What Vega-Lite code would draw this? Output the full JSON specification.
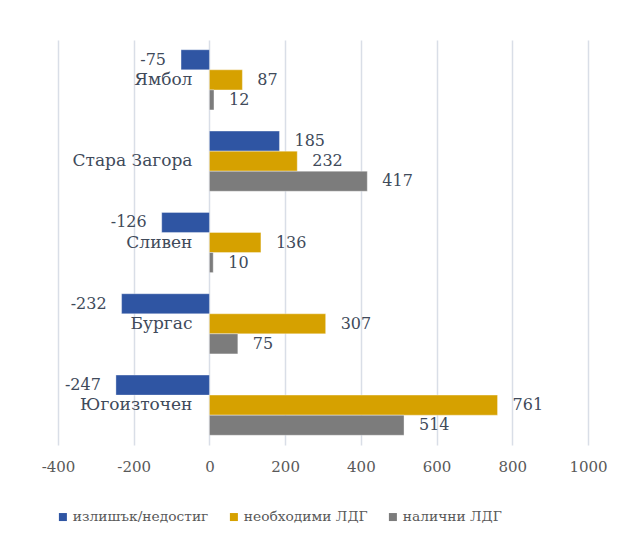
{
  "$schema": "https://vega.github.io/schema/vega-lite/v6.json",
  "width": 530,
  "height": 405,
  "autosize": "none",
  "padding": {"left": 58, "top": 40, "right": 38, "bottom": 106},
  "background": "white",
  "config": {
    "view": {"stroke": null},
    "font": "DejaVu Serif"
  },
  "data": {
    "values": [
      {"region": "Ямбол", "series": "излишък/недостиг", "value": -75},
      {"region": "Ямбол", "series": "необходими ЛДГ", "value": 87},
      {"region": "Ямбол", "series": "налични  ЛДГ", "value": 12},
      {"region": "Стара Загора", "series": "излишък/недостиг", "value": 185},
      {"region": "Стара Загора", "series": "необходими ЛДГ", "value": 232},
      {"region": "Стара Загора", "series": "налични  ЛДГ", "value": 417},
      {"region": "Сливен", "series": "излишък/недостиг", "value": -126},
      {"region": "Сливен", "series": "необходими ЛДГ", "value": 136},
      {"region": "Сливен", "series": "налични  ЛДГ", "value": 10},
      {"region": "Бургас", "series": "излишък/недостиг", "value": -232},
      {"region": "Бургас", "series": "необходими ЛДГ", "value": 307},
      {"region": "Бургас", "series": "налични  ЛДГ", "value": 75},
      {"region": "Югоизточен", "series": "излишък/недостиг", "value": -247},
      {"region": "Югоизточен", "series": "необходими ЛДГ", "value": 761},
      {"region": "Югоизточен", "series": "налични  ЛДГ", "value": 514}
    ]
  },
  "encoding": {
    "y": {
      "field": "region",
      "type": "nominal",
      "sort": ["Ямбол", "Стара Загора", "Сливен", "Бургас", "Югоизточен"],
      "scale": {"paddingInner": 0.26, "paddingOuter": 0.12},
      "axis": null
    }
  },
  "layer": [
    {
      "mark": {"type": "bar", "stroke": "white", "strokeOpacity": 0.35, "strokeWidth": 1},
      "encoding": {
        "x": {
          "field": "value",
          "type": "quantitative",
          "scale": {"domain": [-400, 1000], "nice": false},
          "axis": {
            "values": [-400, -200, 0, 200, 400, 600, 800, 1000],
            "labelExpr": "toString(datum.value)",
            "labelFlush": false,
            "labelOverlap": false,
            "title": null,
            "domain": false,
            "ticks": false,
            "grid": true,
            "gridColor": "#D9DEE7",
            "gridWidth": 1.5,
            "labelFont": "DejaVu Serif",
            "labelFontSize": 15,
            "labelColor": "#595959",
            "labelPadding": 14
          }
        },
        "yOffset": {
          "field": "series",
          "type": "nominal",
          "sort": ["излишък/недостиг", "необходими ЛДГ", "налични  ЛДГ"],
          "scale": {"paddingInner": 0, "paddingOuter": 0}
        },
        "color": {
          "field": "series",
          "type": "nominal",
          "sort": ["излишък/недостиг", "необходими ЛДГ", "налични  ЛДГ"],
          "scale": {
            "domain": ["излишък/недостиг", "необходими ЛДГ", "налични  ЛДГ"],
            "range": ["#2F55A3", "#D6A100", "#7C7C7C"]
          },
          "legend": {
            "orient": "none",
            "legendX": -2,
            "legendY": 470,
            "direction": "horizontal",
            "title": null,
            "symbolType": "square",
            "symbolSize": 64,
            "symbolStrokeWidth": 0,
            "labelFont": "DejaVu Serif",
            "labelFontSize": 13.8,
            "labelColor": "#595959",
            "columnPadding": 18,
            "symbolOffset": 0,
            "labelOffset": 3
          }
        }
      }
    },
    {
      "transform": [{"filter": "datum.value >= 0"}],
      "mark": {"type": "text", "align": "left", "dx": 15, "font": "DejaVu Serif", "fontSize": 16, "color": "#404A5A", "baseline": "middle"},
      "encoding": {
        "x": {"field": "value", "type": "quantitative"},
        "yOffset": {
          "field": "series",
          "type": "nominal",
          "sort": ["излишък/недостиг", "необходими ЛДГ", "налични  ЛДГ"]
        },
        "text": {"field": "value", "type": "nominal"}
      }
    },
    {
      "transform": [{"filter": "datum.value < 0"}],
      "mark": {"type": "text", "align": "right", "dx": -15, "font": "DejaVu Serif", "fontSize": 16, "color": "#404A5A", "baseline": "middle"},
      "encoding": {
        "x": {"field": "value", "type": "quantitative"},
        "yOffset": {
          "field": "series",
          "type": "nominal",
          "sort": ["излишък/недостиг", "необходими ЛДГ", "налични  ЛДГ"]
        },
        "text": {"field": "value", "type": "nominal"}
      }
    },
    {
      "transform": [{"filter": "datum.series === 'необходими ЛДГ'"}],
      "mark": {"type": "text", "align": "right", "dx": -17, "font": "DejaVu Serif", "fontSize": 17, "color": "#404A5A", "baseline": "middle"},
      "encoding": {
        "x": {"datum": 0, "type": "quantitative"},
        "text": {"field": "region", "type": "nominal"}
      }
    }
  ]
}
